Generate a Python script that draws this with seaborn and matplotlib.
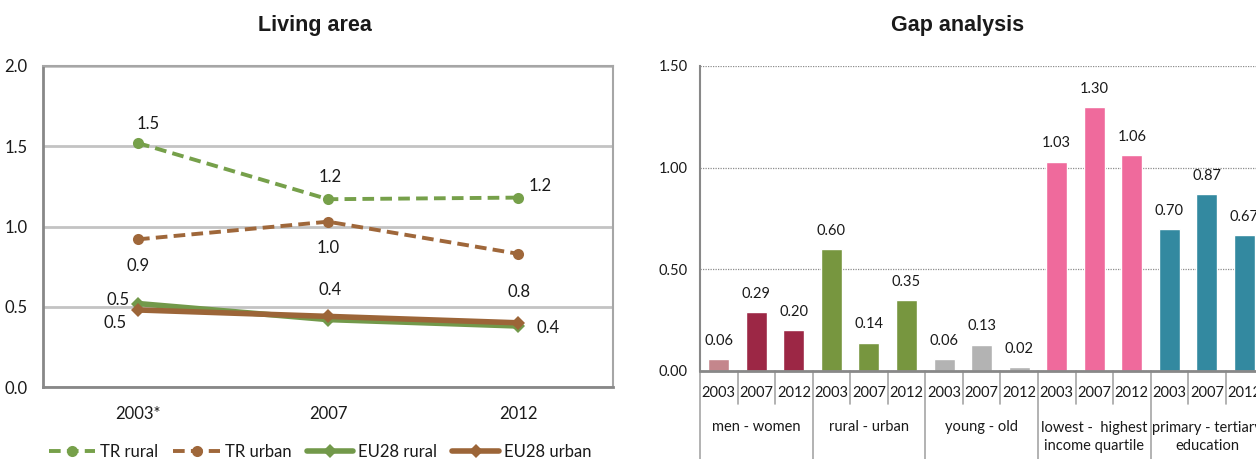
import matplotlib
matplotlib.use("Agg")
import matplotlib.pyplot as plt
import matplotlib.transforms as mtransforms
import seaborn as sns
import pandas as pd
import numpy as np

# ---------------- data ----------------
years_left = ["2003*", "2007", "2012"]
tr_rural = [1.52, 1.17, 1.18]
tr_urban = [0.92, 1.03, 0.83]
eu_rural = [0.52, 0.42, 0.38]
eu_urban = [0.48, 0.44, 0.40]

gap_groups = ["men - women", "rural - urban", "young - old",
              "lowest -  highest\nincome quartile", "primary - tertiary\neducation"]
gap_years = ["2003", "2007", "2012"]
men_women = [0.06, 0.29, 0.20]
rural_urban = [0.60, 0.14, 0.35]
young_old = [0.06, 0.13, 0.02]
income = [1.03, 1.30, 1.06]
education = [0.70, 0.87, 0.67]

# ---------------- style ----------------
sns.set_theme(style="white")
plt.rcParams["font.family"] = ["Lato", "DejaVu Sans"]
TXT = "#1a1a1a"
FS_L = 12
FS_R = 10.5

fig = plt.figure(figsize=(12.56, 4.59), dpi=100)

# ============ Left: Living area ============
axL = fig.add_axes([43/1256, 1-387/459, 570/1256, 321/459])
green = "#76A04A"
brown = "#9F673A"
green2 = "#72994A"
brown2 = "#9C6538"

series = [
    ("TR rural", tr_rural, green, (3, 1.6), "o", 8, 2.8),
    ("TR urban", tr_urban, brown, (3, 1.6), "o", 8, 2.8),
    ("EU28 rural", eu_rural, green2, None, "D", 7, 4.0),
    ("EU28 urban", eu_urban, brown2, None, "D", 7, 4.0),
]
xpos = np.arange(len(years_left))
for name, vals, col, dash, mk, ms, lw in series:
    df = pd.DataFrame({"year": xpos, "value": vals})
    sns.lineplot(data=df, x="year", y="value", ax=axL, color=col, marker=mk,
                 markersize=ms, linewidth=lw, markeredgewidth=0, label=name,
                 sort=False)
    line = axL.lines[-1]
    if dash is not None:
        line.set_dashes(dash)

axL.set_xlim(-0.5, 2.5)
axL.set_ylim(0, 2.0)
axL.set_yticks([0, 0.5, 1.0, 1.5, 2.0])
axL.set_yticklabels(["0.0", "0.5", "1.0", "1.5", "2.0"])
axL.set_xticks(xpos)
axL.set_xticklabels(years_left)
axL.set_xticks([-0.5, 0.5, 1.5, 2.5], minor=True)
axL.tick_params(axis="x", which="major", length=0, pad=14, labelsize=FS_L, labelcolor=TXT)
axL.tick_params(axis="x", which="minor", length=5, width=1.5, color="#888888", direction="out")
axL.tick_params(axis="y", which="major", length=5, width=1.5, color="#888888", direction="out",
                labelsize=FS_L, labelcolor=TXT, pad=6)
axL.set_xlabel("")
axL.set_ylabel("")
axL.grid(axis="y", color="#C3C3C3", linewidth=2)
axL.set_axisbelow(True)
for s in axL.spines.values():
    s.set_color("#A6A6A6")
    s.set_linewidth(1.5)
axL.spines["left"].set_color("#888888")
axL.spines["bottom"].set_color("#888888")
axL.spines["left"].set_linewidth(2)
axL.spines["bottom"].set_linewidth(2)

# data labels (offsets in pixels)
lab_specs = [
    (tr_rural, [(10, 19), (2, 22), (22, 12)], [True, True, True]),
    (tr_urban, [(0, -27), (0, -26), (1, -38)], [True, True, True]),
    (eu_rural, [(-20, 4), None, None], [True, False, False]),
    (eu_urban, [(-23, -13), (2, 26), (30, -5)], [True, True, True]),
]
for vals, offs, show in lab_specs:
    for i, (v, o, s) in enumerate(zip(vals, offs, show)):
        if not s:
            continue
        axL.annotate(f"{v:.1f}", (xpos[i], v), xytext=o, textcoords="offset pixels",
                     ha="center", va="center", fontsize=FS_L, color=TXT)

leg = axL.get_legend()
if leg:
    leg.remove()
handles, labels = axL.get_legend_handles_labels()
fig.legend(handles, labels, loc="center", bbox_to_anchor=(320/1256, 1-452/459), ncol=4,
           frameon=False, fontsize=FS_L, handlelength=2.8, columnspacing=0.9,
           handletextpad=0.3, labelcolor=TXT, borderpad=0)

fig.text(315/1256, 1-25/459, "Living area", ha="center", va="center",
         fontsize=15.5, fontweight="bold", family="Liberation Sans", color=TXT)

# ============ Right: Gap analysis ============
slot = 37.55
axR = fig.add_axes([700/1256, 1-371/459, 15*slot/1256, 305/459])
group_vals = [men_women, rural_urban, young_old, income, education]
group_cols = [["#C4868C", "#9C2745", "#9C2745"],
              ["#77963F"] * 3,
              ["#B3B3B3"] * 3,
              ["#EF6A9C"] * 3,
              ["#3389A0"] * 3]
keys, vals_all, cols_all = [], [], []
for g, vals, cols in zip(gap_groups, group_vals, group_cols):
    for y, v, c in zip(gap_years, vals, cols):
        keys.append(f"{g}|{y}")
        vals_all.append(v)
        cols_all.append(c)
dfR = pd.DataFrame({"key": keys, "value": vals_all})
sns.barplot(data=dfR, x="key", y="value", hue="key", palette=dict(zip(keys, cols_all)),
            ax=axR, width=0.56, legend=False, saturation=1)
axR.set_xlim(-0.5, len(keys) - 0.5)
axR.set_ylim(0, 1.5)
axR.set_yticks([0, 0.5, 1.0, 1.5])
axR.set_yticklabels(["0.00", "0.50", "1.00", "1.50"])
axR.tick_params(axis="y", length=4, width=1, color="#888888", direction="out",
                labelsize=FS_R, labelcolor=TXT, pad=5)
axR.set_xticks(np.arange(len(keys)))
axR.set_xticklabels([])
axR.tick_params(axis="x", length=4, width=1, color="#999999", direction="in")
axR.set_xlabel("")
axR.set_ylabel("")
axR.grid(axis="y", color="#8C8C8C", linestyle=(0, (1, 1)), linewidth=0.9)
axR.set_axisbelow(True)
for side in ["top", "right"]:
    axR.spines[side].set_visible(False)
axR.spines["left"].set_color("#888888")
axR.spines["left"].set_linewidth(1.5)
axR.spines["bottom"].set_color("#888888")
axR.spines["bottom"].set_linewidth(2)

for cont in axR.containers:
    axR.bar_label(cont, fmt="%.2f", padding=8, fontsize=FS_R, color=TXT)

trans = mtransforms.blended_transform_factory(axR.transData, axR.transAxes)
px = 1 / 305  # axes fraction per pixel (vertical)
for k in range(len(keys) + 1):
    xb = k - 0.5
    is_group = (k % 3 == 0)
    ybot = -(459 - 371) * px if is_group else -33 * px
    axR.plot([xb, xb], [0, ybot], transform=trans, color="#A6A6A6",
             linewidth=1.2, clip_on=False)
for k, key in enumerate(keys):
    axR.text(k, -22 * px, key.split("|")[1], transform=trans, ha="center",
             va="center", fontsize=FS_R, color=TXT)
for gi, g in enumerate(gap_groups):
    yy = -56 * px if "\n" not in g else -66 * px
    axR.text(gi * 3 + 1, yy, g, transform=trans, ha="center", va="center",
             fontsize=FS_R, color=TXT, linespacing=1.35)

fig.text(958/1256, 1-25/459, "Gap analysis", ha="center", va="center",
         fontsize=15.5, fontweight="bold", family="Liberation Sans", color=TXT)

fig.savefig("out.png", dpi=100)
